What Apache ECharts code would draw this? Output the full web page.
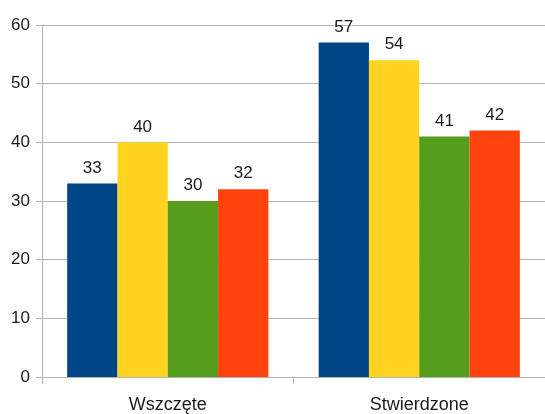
<!DOCTYPE html>
<html><head><meta charset="utf-8">
<script src="https://cdn.jsdelivr.net/npm/echarts@6/dist/echarts.min.js"></script>
<style>html,body{margin:0;padding:0;background:#fff}#c{width:545px;height:414px}</style>
</head><body><div id="c"></div>
<script>
const categories = ['Wszczęte', 'Stwierdzone'];
const s1 = [33, 57];
const s2 = [40, 54];
const s3 = [30, 41];
const s4 = [32, 42];
const colors = ['#004586', '#ffd320', '#579d1c', '#ff420e'];
const yTicks = {min: 0, max: 60, interval: 10};
const font = 'Liberation Sans';
const chart = echarts.init(document.getElementById('c'), null, {renderer: 'canvas'});
const mk = (d, i) => ({
  type: 'bar', data: d, barGap: '0%', barCategoryGap: '20%',
  itemStyle: {color: colors[i]},
  label: {show: true, position: 'top', distance: 7, color: '#1a1a1a', fontSize: 17, fontFamily: font},
  animation: false
});
chart.setOption({
  animation: false,
  grid: {left: 42, right: 0, top: 25, bottom: 34, containLabel: false},
  xAxis: {
    type: 'category', data: categories,
    axisLine: {lineStyle: {color: '#b3b3b3'}},
    axisTick: {show: true, length: 7, lineStyle: {color: '#b3b3b3'}},
    axisLabel: {color: '#1a1a1a', fontSize: 18, fontFamily: font, margin: 19}
  },
  yAxis: {
    type: 'value', min: yTicks.min, max: yTicks.max, interval: yTicks.interval,
    axisLine: {show: true, lineStyle: {color: '#b3b3b3'}},
    axisTick: {show: true, length: 6, lineStyle: {color: '#b3b3b3'}},
    splitLine: {lineStyle: {color: '#b3b3b3'}},
    axisLabel: {color: '#1a1a1a', fontSize: 17, fontFamily: font, margin: 12}
  },
  series: [mk(s1, 0), mk(s2, 1), mk(s3, 2), mk(s4, 3)]
});
</script></body></html>
